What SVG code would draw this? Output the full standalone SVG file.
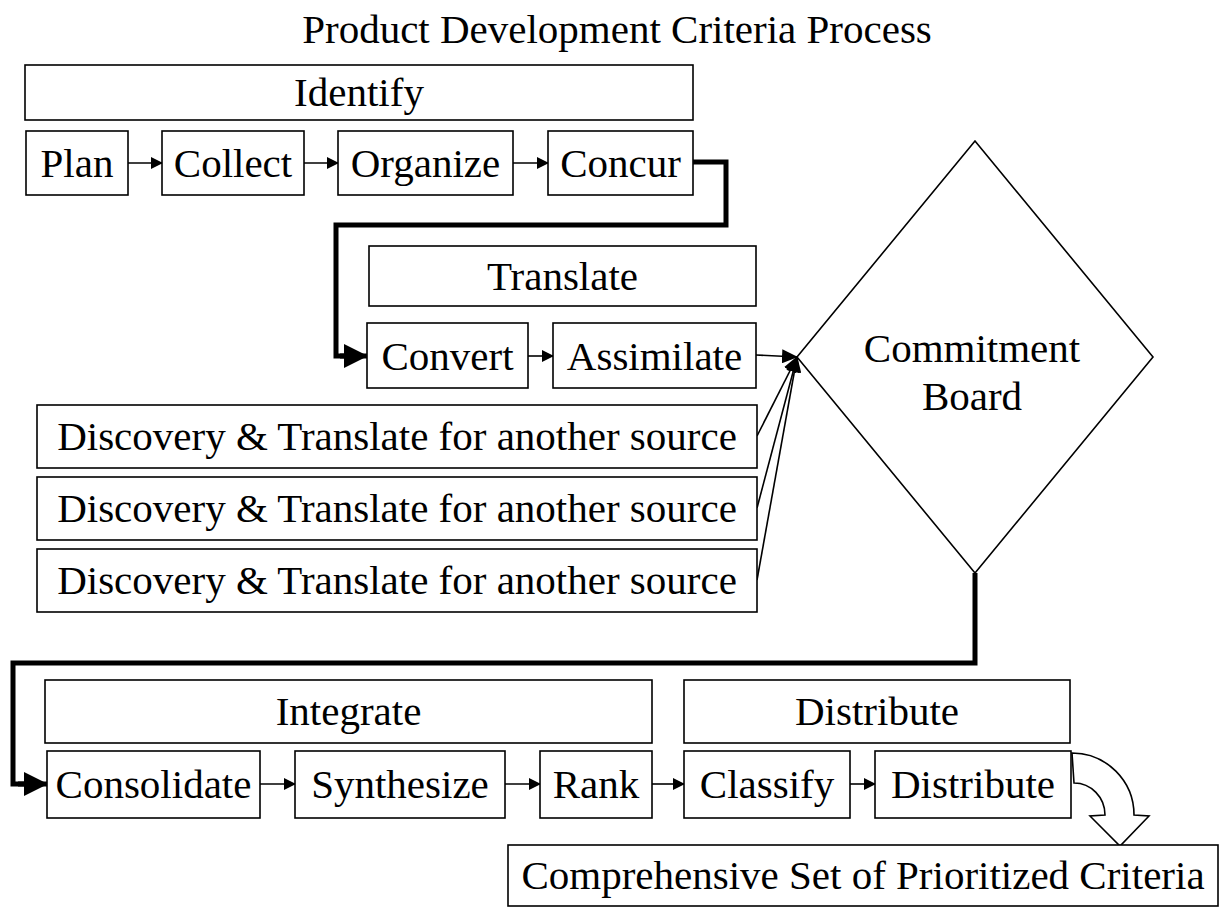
<svg xmlns="http://www.w3.org/2000/svg" width="1230" height="911" viewBox="0 0 1230 911">
<style>
  text { font-family: "Liberation Serif", "Times New Roman", serif; font-size: 41px; fill: #000; text-anchor: middle; }
  .box { fill: #fff; stroke: #000; stroke-width: 1.6; }
  .thin { fill: none; stroke: #000; stroke-width: 1.6; }
  .thick { fill: none; stroke: #000; stroke-width: 5; stroke-linejoin: miter; }
</style>
<defs>
  <marker id="ah" markerUnits="userSpaceOnUse" markerWidth="12" markerHeight="12" viewBox="0 0 12 12" refX="11" refY="6" orient="auto">
    <path d="M0,0 L12,6 L0,12 Z" fill="#000"/>
  </marker>
  <marker id="ahm" markerUnits="userSpaceOnUse" markerWidth="16" markerHeight="14" viewBox="0 0 16 14" refX="15" refY="7" orient="auto">
    <path d="M0,0 L16,7 L0,14 Z" fill="#000"/>
  </marker>
  <marker id="ahb" markerUnits="userSpaceOnUse" markerWidth="24" markerHeight="24" viewBox="0 0 24 24" refX="23" refY="12" orient="auto">
    <path d="M0,0 L24,12 L0,24 Z" fill="#000"/>
  </marker>
</defs>
<rect width="1230" height="911" fill="#fff"/>

<text id="title" x="617" y="43">Product Development Criteria Process</text>

<g id="connectors">
  <line class="thin" x1="128" y1="163" x2="162" y2="163" marker-end="url(#ah)"/>
  <line class="thin" x1="304" y1="163" x2="338" y2="163" marker-end="url(#ah)"/>
  <line class="thin" x1="513" y1="163" x2="548" y2="163" marker-end="url(#ah)"/>
  <path class="thick" d="M693,162 H726 V225 H336 V356 H346"/>
  <line x1="340" y1="356" x2="367" y2="356" stroke="#000" stroke-width="5" marker-end="url(#ahb)"/>
  <line class="thin" x1="528" y1="356" x2="553" y2="356" marker-end="url(#ah)"/>
  <line class="thin" x1="756" y1="355" x2="797" y2="357" marker-end="url(#ahm)"/>
  <line class="thin" x1="757" y1="436" x2="797" y2="357" marker-end="url(#ahm)"/>
  <line class="thin" x1="757" y1="508" x2="797" y2="357" marker-end="url(#ahm)"/>
  <line class="thin" x1="757" y1="580" x2="797" y2="357" marker-end="url(#ahm)"/>
  <path class="thick" d="M975,573 V663 H13 V784 H24"/>
  <line x1="18" y1="784" x2="47" y2="784" stroke="#000" stroke-width="5" marker-end="url(#ahb)"/>
  <line class="thin" x1="260" y1="784" x2="295" y2="784" marker-end="url(#ah)"/>
  <line class="thin" x1="505" y1="784" x2="540" y2="784" marker-end="url(#ah)"/>
  <line class="thin" x1="652" y1="784" x2="684" y2="784" marker-end="url(#ah)"/>
  <line class="thin" x1="850" y1="784" x2="875" y2="784" marker-end="url(#ah)"/>
  <path id="curved-arrow" class="box" d="M1072,753 A62,62 0 0 1 1134,815 L1149,816 L1120,846 L1090,816 L1105,815 A31,32 0 0 0 1074,783 Z"/>
</g>

<g id="identify"><rect class="box" x="25" y="65" width="668" height="55"/><text x="359" y="106">Identify</text></g>
<g id="plan"><rect class="box" x="26" y="131" width="102" height="64"/><text x="77" y="177">Plan</text></g>
<g id="collect"><rect class="box" x="162" y="131" width="142" height="64"/><text x="233" y="177">Collect</text></g>
<g id="organize"><rect class="box" x="338" y="131" width="175" height="64"/><text x="425.5" y="177">Organize</text></g>
<g id="concur"><rect class="box" x="548" y="131" width="145" height="64"/><text x="620.5" y="177">Concur</text></g>

<g id="translate"><rect class="box" x="369" y="246" width="387" height="60"/><text x="562.5" y="290">Translate</text></g>
<g id="convert"><rect class="box" x="367" y="323" width="161" height="65"/><text x="447.5" y="370">Convert</text></g>
<g id="assimilate"><rect class="box" x="553" y="323" width="203" height="65"/><text x="654.5" y="370">Assimilate</text></g>

<g id="discovery1"><rect class="box" x="37" y="405" width="720" height="63"/><text x="397" y="450">Discovery &amp; Translate for another source</text></g>
<g id="discovery2"><rect class="box" x="37" y="477" width="720" height="63"/><text x="397" y="522">Discovery &amp; Translate for another source</text></g>
<g id="discovery3"><rect class="box" x="37" y="549" width="720" height="63"/><text x="397" y="594">Discovery &amp; Translate for another source</text></g>

<g id="commitment-board">
  <polygon class="box" points="975,141 1153,357 975,573 797,357"/>
  <text x="972" y="362">Commitment</text>
  <text x="972" y="410">Board</text>
</g>

<g id="integrate"><rect class="box" x="45" y="680" width="607" height="63"/><text x="348.5" y="725">Integrate</text></g>
<g id="distribute-header"><rect class="box" x="684" y="680" width="386" height="63"/><text x="877" y="725">Distribute</text></g>
<g id="consolidate"><rect class="box" x="47" y="751" width="213" height="67"/><text x="153.5" y="798">Consolidate</text></g>
<g id="synthesize"><rect class="box" x="295" y="751" width="210" height="67"/><text x="400" y="798">Synthesize</text></g>
<g id="rank"><rect class="box" x="540" y="751" width="112" height="67"/><text x="596" y="798">Rank</text></g>
<g id="classify"><rect class="box" x="684" y="751" width="166" height="67"/><text x="767" y="798">Classify</text></g>
<g id="distribute"><rect class="box" x="875" y="751" width="196" height="67"/><text x="973" y="798">Distribute</text></g>

<g id="comprehensive"><rect class="box" x="508" y="845" width="710" height="61"/><text x="863" y="889">Comprehensive Set of Prioritized Criteria</text></g>
</svg>
